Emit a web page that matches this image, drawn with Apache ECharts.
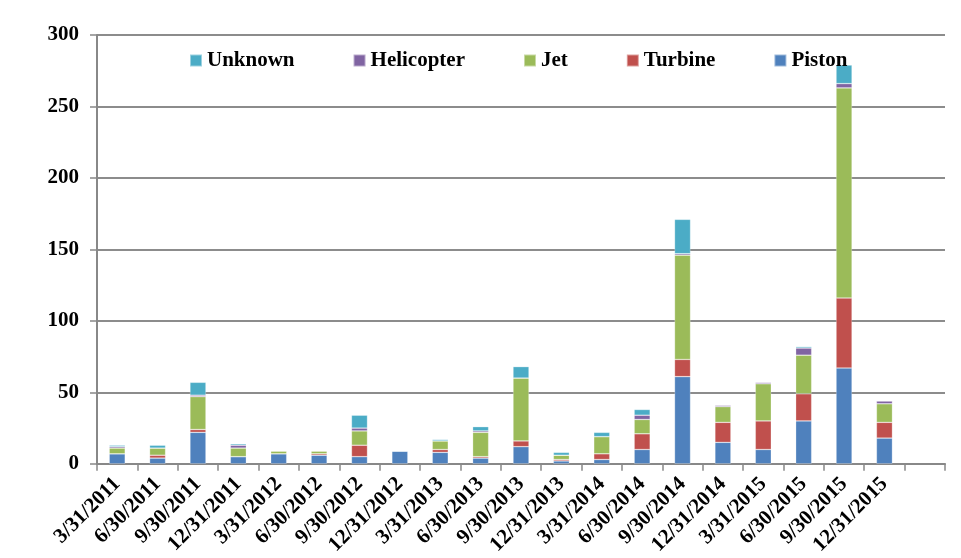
<!DOCTYPE html>
<html>
<head>
<meta charset="utf-8">
<script src="https://cdn.jsdelivr.net/npm/echarts@6/dist/echarts.min.js"></script>
<style>html,body{margin:0;padding:0;background:#fff;}#c{width:961px;height:558px;}</style>
</head>
<body>
<div id="c"></div>
<script>
var categories = ['3/31/2011','6/30/2011','9/30/2011','12/31/2011','3/31/2012','6/30/2012','9/30/2012','12/31/2012','3/31/2013','6/30/2013','9/30/2013','12/31/2013','3/31/2014','6/30/2014','9/30/2014','12/31/2014','3/31/2015','6/30/2015','9/30/2015','12/31/2015',''];
var piston     = [7, 4, 22, 5, 7, 6, 5, 9, 8, 4, 12, 2, 3, 10, 61, 15, 10, 30, 67, 18, null];
var turbine    = [0, 2, 2, 0, 0, 1, 8, 0, 2, 1, 4, 1, 4, 11, 12, 14, 20, 19, 49, 11, null];
var jet        = [4, 5, 23, 6, 2, 2, 10, 0, 6, 17, 44, 3, 12, 10, 73, 11, 26, 27, 147, 13, null];
var helicopter = [1, 0, 1, 2, 0, 0, 2, 0, 0, 1, 0, 0, 0, 3, 1, 1, 1, 5, 3, 2, null];
var unknown    = [1, 2, 9, 1, 0, 0, 9, 0, 1, 3, 8, 2, 3, 4, 24, 0, 0, 1, 13, 0, null];
var yTicks = [0, 300, 50];

var font = 'Liberation Serif';
function mk(name, data, color) {
  return {
    name: name, type: 'bar', stack: 'total', data: data, barWidth: 16,
    itemStyle: { color: color, borderColor: 'rgba(255,255,255,0.45)', borderWidth: 0.6 }
  };
}
var chart = echarts.init(document.getElementById('c'), null, { renderer: 'canvas' });
chart.setOption({
  animation: false,
  textStyle: { fontFamily: font },
  grid: { left: 97, right: 16, top: 35, bottom: 93, containLabel: false },
  legend: {
    data: ['Unknown', 'Helicopter', 'Jet', 'Turbine', 'Piston'],
    left: 184, top: 45, itemWidth: 12, itemHeight: 12, itemGap: 58, icon: 'rect',
    textStyle: { fontFamily: font, fontSize: 21, fontWeight: 'bold', color: '#000' }
  },
  xAxis: {
    type: 'category', data: categories, boundaryGap: true,
    axisLine: { lineStyle: { color: '#888', width: 2 } },
    axisTick: { show: true, length: 7, lineStyle: { color: '#888', width: 1.5 }, alignWithLabel: false, interval: 0 },
    axisLabel: { interval: 0, rotate: 45, margin: 17, fontFamily: font, fontSize: 21, fontWeight: 'bold', color: '#000' }
  },
  yAxis: {
    type: 'value', min: yTicks[0], max: yTicks[1], interval: yTicks[2],
    axisLine: { show: true, lineStyle: { color: '#888', width: 2 } },
    axisTick: { show: true, length: 7, inside: false, lineStyle: { color: '#888', width: 1.5 } },
    splitLine: { lineStyle: { color: '#8c8c8c', width: 2 } },
    axisLabel: { margin: 18, fontFamily: font, fontSize: 21, fontWeight: 'bold', color: '#000' }
  },
  series: [
    mk('Piston', piston, '#4F81BD'),
    mk('Turbine', turbine, '#C0504D'),
    mk('Jet', jet, '#9BBB59'),
    mk('Helicopter', helicopter, '#8064A2'),
    mk('Unknown', unknown, '#4BACC6')
  ]
});
</script>
</body>
</html>
